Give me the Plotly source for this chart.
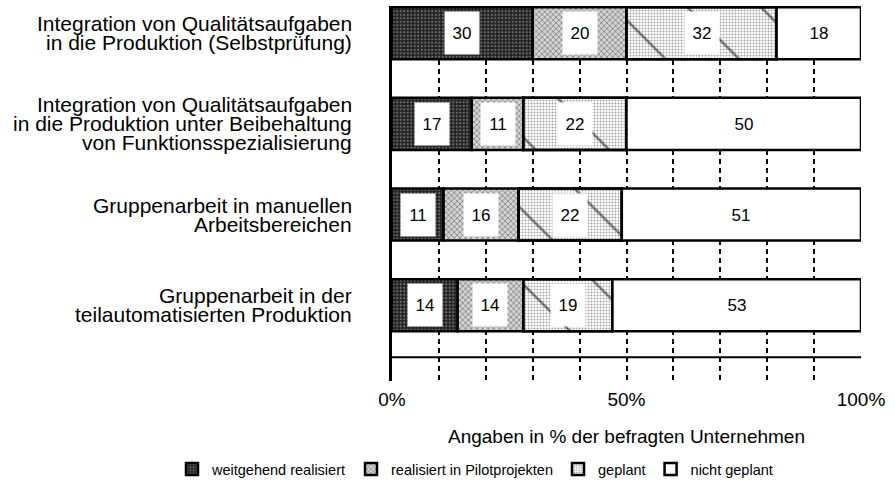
import numpy as np
import plotly.graph_objects as go

# ---------------- data ----------------
categories = [
    "Integration von Qualitätsaufgaben<br>in die Produktion (Selbstprüfung)",
    "Integration von Qualitätsaufgaben<br>in die Produktion unter Beibehaltung<br>von Funktionsspezialisierung",
    "Gruppenarbeit in manuellen<br>Arbeitsbereichen",
    "Gruppenarbeit in der<br>teilautomatisierten Produktion",
]
weitgehend_realisiert = [30, 17, 11, 14]
realisiert_pilot = [20, 11, 16, 14]
geplant = [32, 22, 22, 19]
nicht_geplant = [18, 50, 51, 53]
series_names = ["weitgehend realisiert", "realisiert in Pilotprojekten", "geplant", "nicht geplant"]
grid_values = [0, 10, 20, 30, 40, 50, 60, 70, 80, 90, 100]
tick_labels = {0: "0%", 50: "50%", 100: "100%"}
x_title = "Angaben in % der befragten Unternehmen"

# ---------------- styling ----------------
FONT = "Liberation Sans, Arial, Helvetica, sans-serif"
BAR_W = 0.574
W, H = 895, 486
ML, MR, MT, MB = 392, 34, 6, 105
PW, PH = W - ML - MR, H - MT - MB
styles = [
    dict(color="#222222", pattern=dict(shape=".", fgcolor="#bdbdbd", bgcolor="#222222", size=3.5, solidity=0.3)),
    dict(color="#c8c8c8", pattern=dict(shape="x", fgcolor="#222222", bgcolor="#d4d4d4", size=4, solidity=0.35)),
    dict(color="#ffffff", pattern=dict(shape=".", fgcolor="#444444", bgcolor="#ffffff", size=3, solidity=0.33)),
    dict(color="#ffffff", pattern=dict(shape="")),
]

series = [weitgehend_realisiert, realisiert_pilot, geplant, nicht_geplant]
vals = np.array(series, dtype=float)
bases = np.vstack([np.zeros(len(categories)), np.cumsum(vals, axis=0)[:-1]])
y_idx = list(range(len(categories)))

fig = go.Figure()
for k, (name, v) in enumerate(zip(series_names, series)):
    st = styles[k]
    fig.add_trace(go.Bar(
        name=name, orientation="h", y=y_idx, x=v, base=bases[k], width=BAR_W,
        marker=dict(color=st["color"], pattern=st["pattern"], line=dict(color="black", width=2.5)),
        hoverinfo="skip",
    ))
    if name == "geplant":
        # diagonal hatch overlaid on the stipple
        fig.add_trace(go.Bar(
            name=name, orientation="h", y=y_idx, x=v, base=bases[k], width=BAR_W,
            showlegend=False,
            marker=dict(color="rgba(0,0,0,0)",
                        pattern=dict(shape="\\", fgcolor="black", bgcolor="rgba(0,0,0,0)", size=52, solidity=0.05),
                        line=dict(color="black", width=2.5)),
            hoverinfo="skip",
        ))

annotations = []
# value labels in white boxes
for k, v in enumerate(series):
    for i, val in enumerate(v):
        annotations.append(dict(
            x=bases[k][i] + val / 2, y=i, xref="x", yref="y", text=str(val), showarrow=False,
            font=dict(size=17, family=FONT, color="black"),
            bgcolor="white", width=34, height=42, borderpad=0,
        ))
# category labels
for i, lab in enumerate(categories):
    lines = lab.split("<br>")
    m = len(lines)
    for j, line in enumerate(lines):
        annotations.append(dict(
            x=0, y=i, xref="paper", yref="y", text=line, showarrow=False,
            xanchor="right", yanchor="middle", xshift=-38, yshift=-(j - (m - 1) / 2) * 19,
            font=dict(size=21, family=FONT, color="black"),
        ))

n = len(categories)
fig.add_shape(type="line", xref="x", yref="y", x0=0, x1=100, y0=n - 0.427, y1=n - 0.427,
              line=dict(color="black", width=2))

fig.update_layout(
    width=W, height=H,
    margin=dict(l=ML, r=MR, t=MT, b=MB, autoexpand=False),
    plot_bgcolor="white", paper_bgcolor="white",
    barmode="overlay",
    font=dict(family=FONT, color="black"),
    annotations=annotations,
    xaxis=dict(
        range=[0, 100], tickmode="array", tickvals=grid_values,
        ticktext=[tick_labels.get(g, "") for g in grid_values],
        showgrid=True, gridcolor="black", gridwidth=1.5, griddash="5px,4px",
        showline=False, zeroline=False, ticks="", tickfont=dict(size=19),
        ticklabelstandoff=5,
        title=dict(text=x_title, font=dict(size=19), standoff=20),
        fixedrange=True, automargin=False,
    ),
    yaxis=dict(
        range=[n - 1 + 0.836, -0.30], showticklabels=False, showgrid=False, zeroline=False,
        showline=True, linecolor="black", linewidth=2.5, ticks="", automargin=False,
        fixedrange=True,
    ),
    legend=dict(
        orientation="h", xref="paper", yref="paper",
        x=(172 - ML) / PW, y=-(469 - (H - MB)) / PH, xanchor="left", yanchor="middle",
        font=dict(size=14.5), traceorder="normal", bgcolor="rgba(0,0,0,0)",
    ),
    showlegend=True,
)

fig.write_html(
    "out.html",
    config={"displayModeBar": False},
    post_script="document.body.style.margin='0';document.body.style.overflow='hidden';",
)
